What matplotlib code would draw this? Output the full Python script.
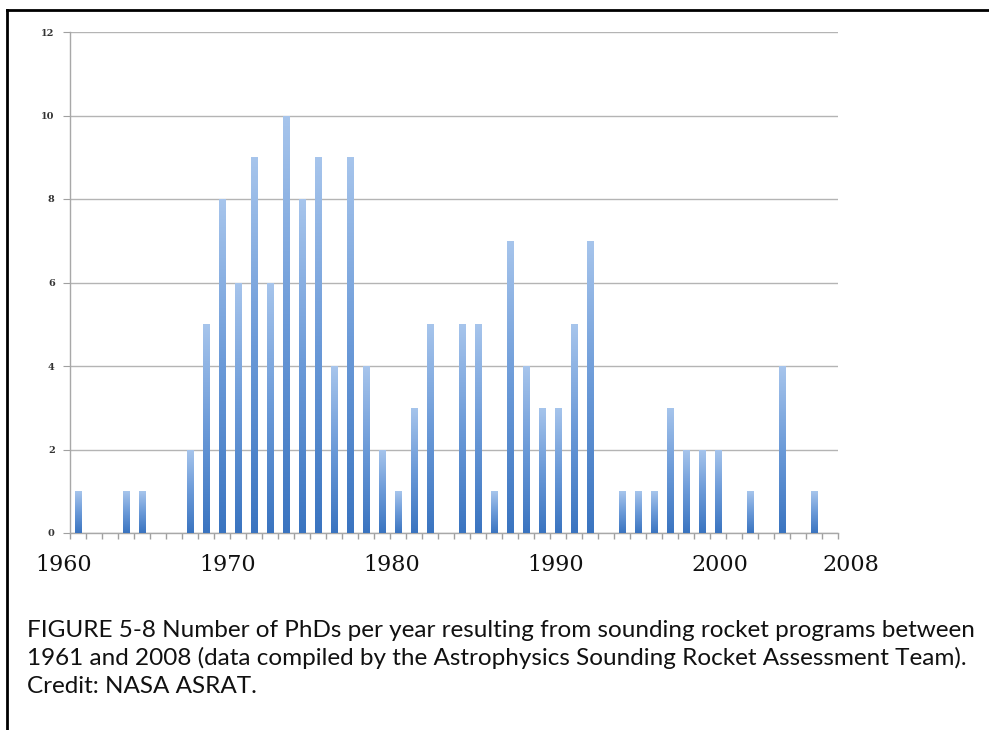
import numpy as np
import matplotlib
matplotlib.use("Agg")
import matplotlib.pyplot as plt
from matplotlib.colors import LinearSegmentedColormap
from matplotlib.lines import Line2D

years = list(range(1961, 2009))
phds = [1, 0, 0, 1, 1, 0, 0, 2, 5, 8, 6, 9, 6, 10, 8, 9, 4, 9, 4, 2,
        1, 3, 5, 0, 5, 5, 1, 7, 4, 3, 3, 5, 7, 0, 1, 1, 1, 3, 2, 2,
        2, 0, 1, 0, 4, 0, 1, 0]
label_years = [1960, 1970, 1980, 1990, 2000, 2008]
yticks = [0, 2, 4, 6, 8, 10, 12]
caption_lines = [
    "FIGURE 5-8 Number of PhDs per year resulting from sounding rocket programs between",
    "1961 and 2008 (data compiled by the Astrophysics Sounding Rocket Assessment Team).",
    "Credit: NASA ASRAT.",
]

W, H = 989, 730
fig = plt.figure(figsize=(W / 100, H / 100), dpi=100)
fig.patch.set_facecolor("white")

ax_l, ax_r, ax_t, ax_b = 70, 838, 32, 533
ax = fig.add_axes([ax_l / W, (H - ax_b) / H, (ax_r - ax_l) / W, (ax_b - ax_t) / H])

x = np.arange(len(years))
bars = ax.bar(x, phds, width=0.42, color="#6f9bd6", linewidth=0, zorder=3)

cmap = LinearSegmentedColormap.from_list("g", ["#3a74c0", "#6b9ad8", "#a7c5ec"])
grad = np.linspace(0, 1, 256).reshape(-1, 1)
for b, v in zip(bars, phds):
    if v <= 0:
        continue
    bx, by = b.get_x(), b.get_y()
    w, h = b.get_width(), b.get_height()
    im = ax.imshow(grad, cmap=cmap, origin="lower", aspect="auto",
                   extent=(bx, bx + w, by, by + h), zorder=4,
                   interpolation="bilinear")
    im.set_clip_path(b)

ax.set_yticks(yticks)
ax.set_yticklabels([str(t) for t in yticks], family="DejaVu Serif",
                   fontsize=7, color="#333333", fontweight="bold")
ax.yaxis.grid(True, color="#b4b4b4", linewidth=1.0, zorder=0)
ax.tick_params(axis="y", length=5, color="#a0a0a0", pad=6)

ax.set_xticks([])
ax.set_xticks(np.arange(-0.5, len(years), 1.0), minor=True)
ax.tick_params(axis="x", which="minor", length=4, color="#a0a0a0", width=1)
ax.set_xlim(-0.5, len(years) - 0.5)
ax.set_ylim(0, 12)

for s in ["top", "right"]:
    ax.spines[s].set_visible(False)
for s in ["left", "bottom"]:
    ax.spines[s].set_color("#a8a8a8")
    ax.spines[s].set_linewidth(1.0)

# separate label axis for the large year labels
lab_l, lab_r, lab_y = 64, 851, 565
lax = fig.add_axes([lab_l / W, (H - lab_y) / H, (lab_r - lab_l) / W, 0.001])
lax.set_xlim(label_years[0], label_years[-1])
lax.set_xticks(label_years)
lax.set_xticklabels([str(v) for v in label_years], family="DejaVu Serif",
                    fontsize=16, color="#111111", va="center")
lax.tick_params(axis="x", length=0, pad=0)
lax.set_yticks([])
for s in lax.spines.values():
    s.set_visible(False)
lax.patch.set_alpha(0)

# caption
baselines = [637, 665, 693]
for line, yb in zip(caption_lines, baselines):
    fig.text(27 / W, 1 - yb / H, line, ha="left", va="baseline",
             family="Lato", fontsize=17.5, color="#111111")

# border
fig.add_artist(Line2D([7 / W, 1.0], [1 - 10 / H, 1 - 10 / H],
                      transform=fig.transFigure, color="black", lw=2))
fig.add_artist(Line2D([7 / W, 7 / W], [0, 1 - 10 / H],
                      transform=fig.transFigure, color="black", lw=2))

fig.savefig("out.png", dpi=100)
